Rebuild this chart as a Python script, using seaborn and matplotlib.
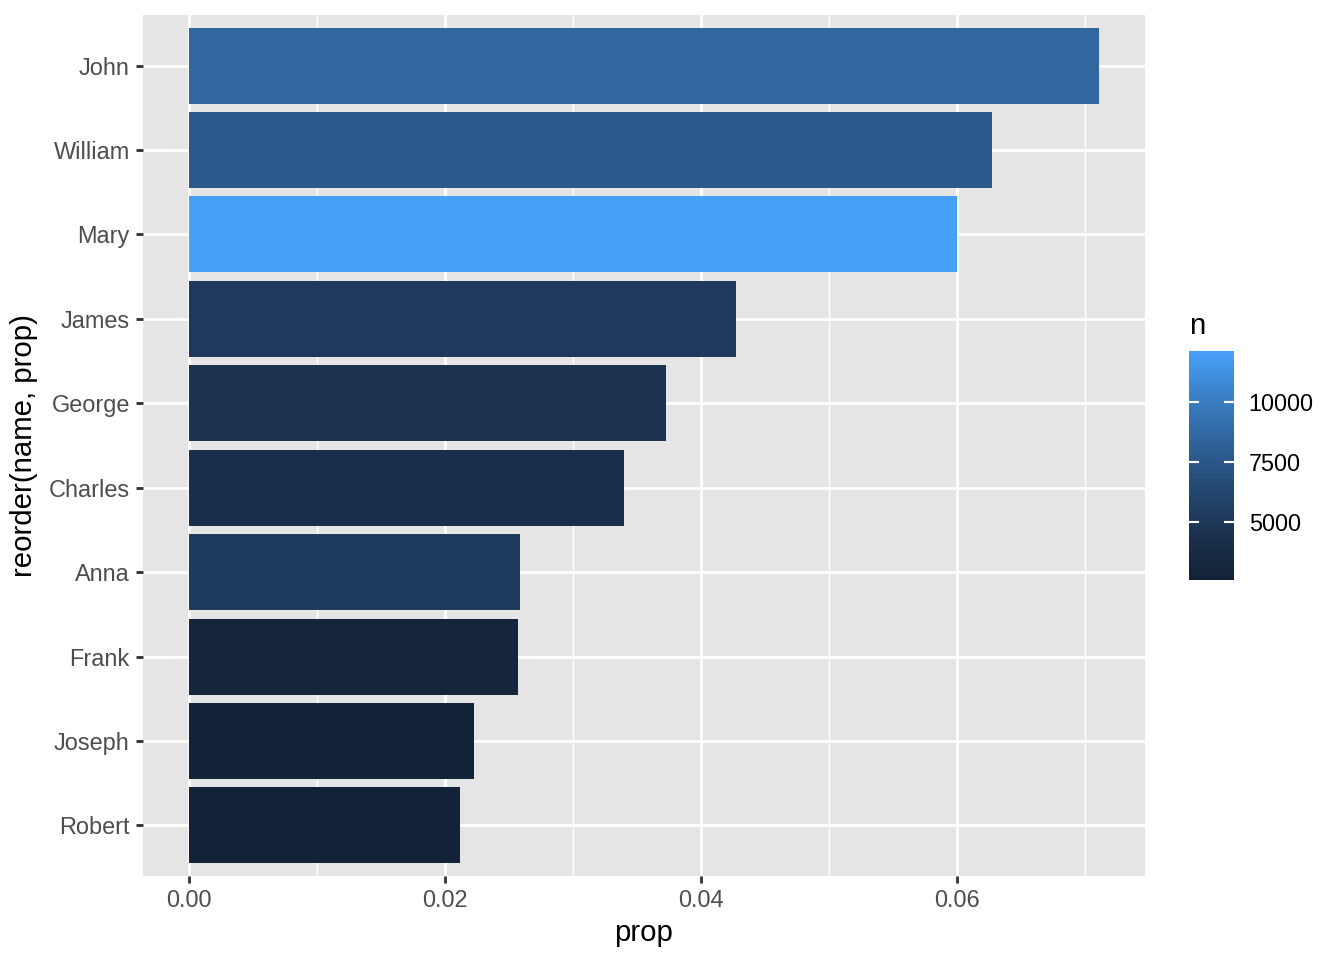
import numpy as np
import pandas as pd
import matplotlib
matplotlib.use("Agg")
import matplotlib.pyplot as plt
import seaborn as sns
from matplotlib.colors import ListedColormap, Normalize
from matplotlib.cm import ScalarMappable

names = ["John", "William", "Mary", "James", "George",
         "Charles", "Anna", "Frank", "Joseph", "Robert"]
props = [0.0711, 0.0627, 0.0600, 0.0427, 0.0373,
         0.0340, 0.0259, 0.0257, 0.0223, 0.0212]
counts = [8640, 7620, 12120, 5190, 4530,
          4130, 5240, 3120, 2710, 2590]

LOW, HIGH = "#132237", "#47A0F8"


def _to_lab(rgb):
    c = np.asarray(rgb, dtype=float)
    c = np.where(c > 0.04045, ((c + 0.055) / 1.055) ** 2.4, c / 12.92)
    m = np.array([[0.4124, 0.3576, 0.1805],
                  [0.2126, 0.7152, 0.0722],
                  [0.0193, 0.1192, 0.9505]])
    xyz = m @ c / np.array([0.95047, 1.0, 1.08883])
    f = np.where(xyz > 0.008856, np.cbrt(xyz), 7.787 * xyz + 16 / 116)
    return np.array([116 * f[1] - 16, 500 * (f[0] - f[1]), 200 * (f[1] - f[2])])


def _from_lab(lab):
    fy = (lab[0] + 16) / 116
    f = np.array([fy + lab[1] / 500, fy, fy - lab[2] / 200])
    xyz = np.where(f ** 3 > 0.008856, f ** 3, (f - 16 / 116) / 7.787)
    xyz = xyz * np.array([0.95047, 1.0, 1.08883])
    m = np.array([[3.2406, -1.5372, -0.4986],
                  [-0.9689, 1.8758, 0.0415],
                  [0.0557, -0.2040, 1.0570]])
    c = m @ xyz
    c = np.where(c > 0.0031308, 1.055 * np.clip(c, 0, None) ** (1 / 2.4) - 0.055, 12.92 * c)
    return np.clip(c, 0, 1)


# ggplot-like gradient (Lab interpolation), slightly darker in the middle
lo = _to_lab(matplotlib.colors.to_rgb(LOW))
hi = _to_lab(matplotlib.colors.to_rgb(HIGH))
cmap = ListedColormap([_from_lab(lo + (hi - lo) * t ** 1.2) for t in np.linspace(0, 1, 256)])

df = pd.DataFrame({"name": names, "prop": props, "n": counts})
norm = Normalize(vmin=min(counts), vmax=max(counts))
palette = {nm: cmap(norm(v)) for nm, v in zip(names, counts)}

plt.rcParams["font.family"] = ["Liberation Sans", "DejaVu Sans"]

fig = plt.figure(figsize=(7, 5), dpi=192)
ax = fig.add_axes([143 / 1344, 1 - 876 / 960, (1145 - 143) / 1344, (876 - 15) / 960])
ax.set_facecolor("#E5E5E5")

sns.barplot(data=df, x="prop", y="name", hue="name", palette=palette,
            order=names, legend=False, width=0.9, ax=ax, saturation=1,
            edgecolor="none", linewidth=0, zorder=3)

ax.set_xlim(-0.0711 * 0.05, 0.0711 * 1.05)
ax.set_ylim(len(names) - 0.4, -0.6)
ax.set_xticks([0, 0.02, 0.04, 0.06])
ax.set_xticklabels(["0.00", "0.02", "0.04", "0.06"])
ax.set_xticks([0.01, 0.03, 0.05, 0.07], minor=True)
ax.grid(True, which="major", color="white", linewidth=1.07, zorder=0)
ax.grid(True, which="minor", axis="x", color="white", linewidth=0.53, zorder=0)
ax.set_axisbelow(True)
for s in ax.spines.values():
    s.set_visible(False)
ax.tick_params(which="major", length=2.75, width=1.07, color="#333333",
               labelsize=8.8, labelcolor="#4D4D4D", pad=2.2)
ax.tick_params(which="minor", length=0)
ax.set_xlabel("prop", fontsize=11, color="black", labelpad=2.5)
ax.set_ylabel("reorder(name, prop)", fontsize=11, color="black", labelpad=4)

# colour bar legend
cax = fig.add_axes([1189 / 1344, 1 - 580 / 960, 45 / 1344, 229 / 960])
cb = fig.colorbar(ScalarMappable(norm=norm, cmap=cmap), cax=cax)
cb.outline.set_visible(False)
cb.set_ticks([5000, 7500, 10000])
cax.tick_params(length=0, labelsize=8.8, labelcolor="black", pad=5.5)
tr = cax.get_yaxis_transform()
for v in [5000, 7500, 10000]:
    cax.plot([0, 0.2], [v, v], color="white", linewidth=0.8, transform=tr, zorder=5, clip_on=False)
    cax.plot([0.8, 1], [v, v], color="white", linewidth=0.8, transform=tr, zorder=5, clip_on=False)
fig.text(1189 / 1344, 1 - 326 / 960, "n", fontsize=11, ha="left", va="center")

fig.savefig("out.png", dpi=192, facecolor="white")
